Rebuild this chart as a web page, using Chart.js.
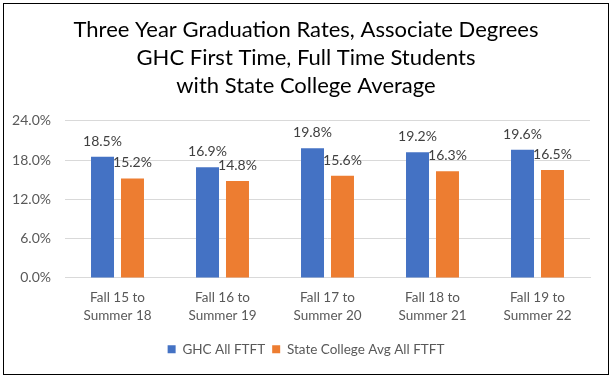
<!DOCTYPE html>
<html>
<head>
<meta charset="utf-8">
<script src="https://cdn.jsdelivr.net/npm/chart.js@4"></script>
<style>
  html, body { margin: 0; padding: 0; background: #fff; }
  #frame {
    position: absolute; left: 3px; top: 3px;
    width: 604px; height: 370px;
    border: 1px solid #000; background: #fff;
  }
</style>
</head>
<body>
<div id="frame"><canvas id="chart" width="604" height="370"></canvas></div>
<script>
const categories = [
  ['Fall 15 to', 'Summer 18'],
  ['Fall 16 to', 'Summer 19'],
  ['Fall 17 to', 'Summer 20'],
  ['Fall 18 to', 'Summer 21'],
  ['Fall 19 to', 'Summer 22']
];
const ghcRates = [18.5, 16.9, 19.8, 19.2, 19.6];
const stateAvgRates = [15.2, 14.8, 15.6, 16.3, 16.5];
const titleLines = [
  'Three Year Graduation Rates, Associate Degrees',
  'GHC First Time, Full Time Students',
  'with State College Average'
];

const FONT = 'Lato, "Noto Sans", sans-serif';

// draw the value above every bar
const barLabels = {
  id: 'barLabels',
  afterDatasetsDraw(chart) {
    const ctx = chart.ctx;
    ctx.save();
    ctx.font = '14px ' + FONT;
    ctx.fillStyle = '#404040';
    ctx.textAlign = 'center';
    ctx.textBaseline = 'alphabetic';
    chart.data.datasets.forEach((ds, i) => {
      chart.getDatasetMeta(i).data.forEach((bar, j) => {
        ctx.fillText(ds.data[j].toFixed(1) + '%', bar.x, bar.y - 11);
      });
    });
    ctx.restore();
  }
};

new Chart(document.getElementById('chart').getContext('2d'), {
  type: 'bar',
  data: {
    labels: categories,
    datasets: [
      {
        label: 'GHC All FTFT',
        data: ghcRates,
        backgroundColor: '#4472C4',
        barPercentage: 0.767,
        categoryPercentage: 0.571
      },
      {
        label: 'State College Avg All FTFT',
        data: stateAvgRates,
        backgroundColor: '#ED7D31',
        barPercentage: 0.767,
        categoryPercentage: 0.571
      }
    ]
  },
  options: {
    responsive: false,
    animation: false,
    layout: { padding: { left: 0, right: 0, top: 12, bottom: 8 } },
    scales: {
      y: {
        min: 0,
        max: 24,
        afterFit: (scale) => { scale.width = 61; },
        ticks: {
          stepSize: 6,
          color: '#595959',
          font: { family: FONT, size: 14 },
          padding: 14,
          callback: (value) => value.toFixed(1) + '%'
        },
        grid: { color: '#d9d9d9', drawTicks: false },
        border: { display: false }
      },
      // empty spacer on the right so title and legend stay centred on the frame
      spacer: {
        position: 'right',
        min: 0,
        max: 1,
        afterFit: (scale) => { scale.width = 18; },
        ticks: { display: false },
        grid: { display: false, drawTicks: false },
        border: { display: false }
      },
      x: {
        ticks: {
          color: '#595959',
          font: { family: FONT, size: 13.5, lineHeight: 1.39 },
          padding: 10,
          maxRotation: 0
        },
        grid: { display: false, drawTicks: false },
        border: { color: '#d9d9d9' }
      }
    },
    plugins: {
      title: {
        display: true,
        text: titleLines,
        color: '#000',
        font: { family: FONT, size: 22, weight: 'normal', lineHeight: 1.27 },
        padding: { top: 0, bottom: 21 }
      },
      legend: {
        position: 'bottom',
        labels: {
          color: '#595959',
          font: { family: FONT, size: 13.5 },
          boxWidth: 8,
          boxHeight: 8,
          padding: 7
        }
      },
      tooltip: { enabled: false }
    }
  },
  plugins: [barLabels]
});
</script>
</body>
</html>
